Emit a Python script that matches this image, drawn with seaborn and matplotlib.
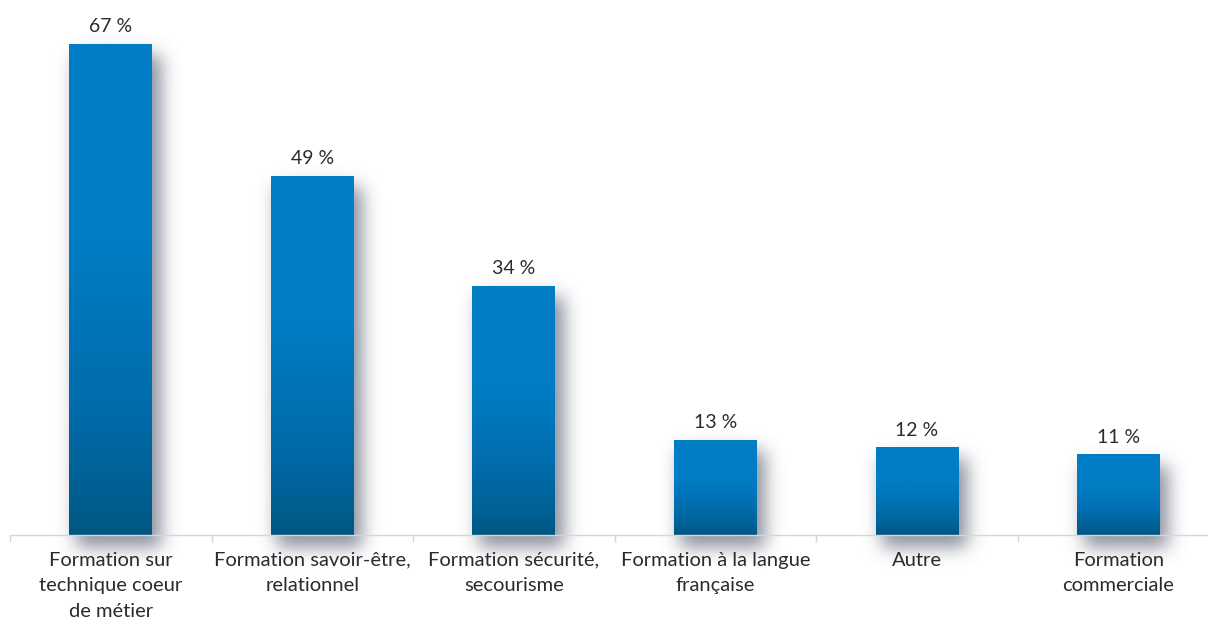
import numpy as np
import matplotlib
matplotlib.use("Agg")
import matplotlib.pyplot as plt
import seaborn as sns
from matplotlib.colors import LinearSegmentedColormap

categories = [
    "Formation sur\ntechnique coeur\nde métier",
    "Formation savoir-être,\nrelationnel",
    "Formation sécurité,\nsecourisme",
    "Formation à la langue\nfrançaise",
    "Autre",
    "Formation\ncommerciale",
]
values = [67, 49, 34, 13, 12, 11]
value_labels = ["67 %", "49 %", "34 %", "13 %", "12 %", "11 %"]

sns.set_theme(style="white")
plt.rcParams["font.family"] = ["Lato", "DejaVu Sans"]

W, H, DPI = 1208, 621, 100
fig = plt.figure(figsize=(W / DPI, H / DPI), dpi=DPI)
fig.patch.set_facecolor("white")

# background layer for the soft drop shadows
bg = fig.add_axes([0, 0, 1, 1], zorder=0)
bg.set_axis_off()

ax = fig.add_axes([10 / W, 1 - 535 / H, 1 - 10 / W, (535 - 7) / H], zorder=1)
ax.patch.set_alpha(0)

sns.barplot(x=list(range(len(values))), y=values, ax=ax, width=0.41,
            color="#007DC5", saturation=1, edgecolor="none")

# axis styling
for s in ["top", "right", "left"]:
    ax.spines[s].set_visible(False)
ax.spines["bottom"].set_color("#d6d6d6")
ax.spines["bottom"].set_linewidth(1.0)
ax.set_yticks([])
ax.set_ylabel("")
ax.set_xlabel("")
ax.set_xticks(range(len(categories)))
ax.set_xticklabels(categories, fontsize=14.5, color="#2b2b2b", linespacing=1.62)
ax.tick_params(axis="x", which="major", length=0, pad=12)
ax.set_xticks([i - 0.5 for i in range(len(categories) + 1)], minor=True)
ax.tick_params(axis="x", which="minor", length=5, width=1, color="#d6d6d6", bottom=True)
ax.set_xlim(-0.5, 5.445)
ax.set_ylim(0, 72)

# vertical gradient on each bar
grad_cmap = LinearSegmentedColormap.from_list("bar", ["#005680", "#006BAA", "#007DC5", "#007DC5"])
grad = np.linspace(0, 1, 256).reshape(-1, 1) ** 0.8
for p in ax.patches:
    x0, y0 = p.get_x(), p.get_y()
    w, h = p.get_width(), p.get_height()
    im = ax.imshow(grad, cmap=grad_cmap, aspect="auto", origin="lower",
                   extent=[x0, x0 + w, y0, y0 + h], zorder=2, vmin=0, vmax=1)
    im.set_clip_path(p)
    p.set_facecolor("none")
ax.set_xlim(-0.5, 5.445)
ax.set_ylim(0, 72)

# blurred shadow, offset to the lower right of each bar
shadow = np.zeros((H, W))
for p in ax.patches:
    (dx0, dy0), (dx1, dy1) = ax.transData.transform(
        [(p.get_x(), p.get_y()), (p.get_x() + p.get_width(), p.get_y() + p.get_height())])
    c0, c1 = int(dx0) + 7, int(dx1) + 9
    r0, r1 = int(H - dy1) + 12, int(H - dy0) + 12
    shadow[max(r0, 0):min(r1, H), max(c0, 0):min(c1, W)] = 1.0

sigma = 9.0
k = np.arange(-3 * sigma, 3 * sigma + 1)
kern = np.exp(-0.5 * (k / sigma) ** 2)
kern /= kern.sum()
shadow = np.apply_along_axis(lambda r: np.convolve(r, kern, mode="same"), 1, shadow)
shadow = np.apply_along_axis(lambda c: np.convolve(c, kern, mode="same"), 0, shadow)
rgba = np.zeros((H, W, 4))
rgba[..., 0] = 0x6c / 255
rgba[..., 1] = 0x72 / 255
rgba[..., 2] = 0x82 / 255
rgba[..., 3] = shadow * 0.8
bg.imshow(rgba, extent=[0, W, 0, H], origin="upper", aspect="auto", interpolation="bilinear")
bg.set_xlim(0, W)
bg.set_ylim(0, H)

# value labels above the bars
for i, (v, lab) in enumerate(zip(values, value_labels)):
    ax.annotate(lab, (i, v), xytext=(0, 6), textcoords="offset points",
                ha="center", va="bottom", fontsize=14, color="#2b2b2b")

fig.savefig("out.png", dpi=DPI, facecolor="white")
